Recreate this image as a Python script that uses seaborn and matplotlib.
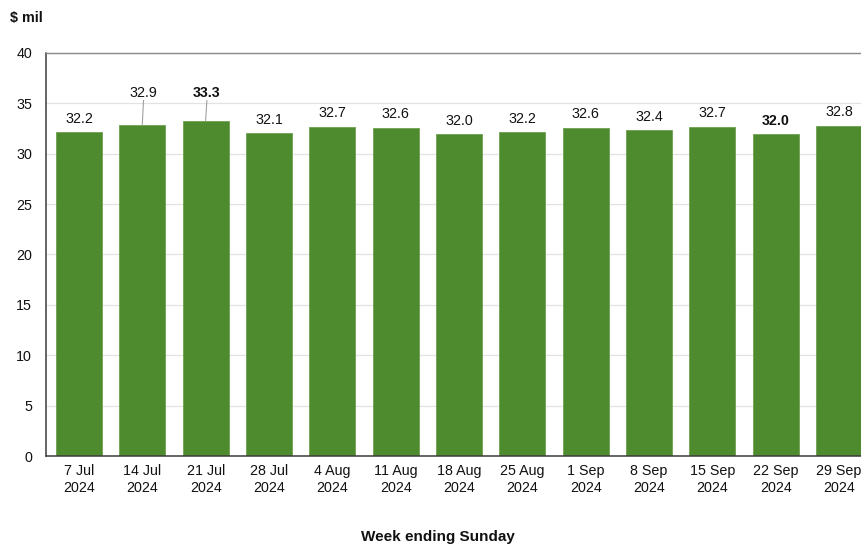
import matplotlib
matplotlib.use("Agg")
import matplotlib.pyplot as plt
import seaborn as sns
import pandas as pd

weeks = ["7 Jul\n2024", "14 Jul\n2024", "21 Jul\n2024", "28 Jul\n2024", "4 Aug\n2024",
         "11 Aug\n2024", "18 Aug\n2024", "25 Aug\n2024", "1 Sep\n2024", "8 Sep\n2024",
         "15 Sep\n2024", "22 Sep\n2024", "29 Sep\n2024"]
values = [32.2, 32.9, 33.3, 32.1, 32.7, 32.6, 32.0, 32.2, 32.6, 32.4, 32.7, 32.0, 32.8]
bold_labels = ["21 Jul\n2024", "22 Sep\n2024"]
raised_labels = ["14 Jul\n2024", "21 Jul\n2024"]
y_ticks = [0, 5, 10, 15, 20, 25, 30, 35, 40]

df = pd.DataFrame({"week": weeks, "value": values})

sns.set_theme(style="white")
plt.rcParams["font.family"] = ["Liberation Sans", "DejaVu Sans"]

fig = plt.figure(figsize=(8.61, 5.45), dpi=100)
ax = fig.add_axes([46 / 861, 89 / 545, 826 / 861, 403 / 545])

bar_color = "#4e8a2e"
sns.barplot(data=df, x="week", y="value", color=bar_color, width=0.73,
            saturation=1, edgecolor="#6ea04f", linewidth=0.6, ax=ax, zorder=2)

ax.set_ylim(0, 40)
ax.set_xlim(-0.52, len(weeks) - 0.48)
ax.set_yticks(y_ticks)
ax.yaxis.grid(True, color="#e2e2e2", linewidth=0.9, zorder=0)
ax.set_axisbelow(True)
ax.tick_params(axis="both", length=0, labelsize=10.3, colors="#111111")
ax.tick_params(axis="y", pad=10)
ax.tick_params(axis="x", pad=6)
ax.set_xlabel("")
ax.set_ylabel("")

for side in ["left", "bottom"]:
    ax.spines[side].set_color("#3c3c3c")
    ax.spines[side].set_linewidth(1.1)
ax.spines["top"].set_color("#8a8a8a")
ax.spines["top"].set_linewidth(1.0)
ax.spines["right"].set_visible(False)

for i, (wk, v) in enumerate(zip(weeks, values)):
    weight = "bold" if wk in bold_labels else "normal"
    if wk in raised_labels:
        ax.plot([i, i + 0.02], [v, 35.3], color="#a0a0a0", linewidth=0.8, zorder=3)
        ax.text(i + 0.02, 36.0, f"{v:.1f}", ha="center", va="center", fontsize=10.3,
                fontweight=weight, color="#111111", zorder=4)
    else:
        ax.annotate(f"{v:.1f}", xy=(i, v), xytext=(0, 9.4), textcoords="offset points",
                    ha="center", va="center", fontsize=10.3, fontweight=weight,
                    color="#111111", zorder=4)

fig.text(10 / 861, 1 - 18 / 545, "$ mil", ha="left", va="center",
         fontsize=10.3, fontweight="bold", color="#111111")
fig.text(438 / 861, 1 - 537 / 545, "Week ending Sunday", ha="center", va="center",
         fontsize=11, fontweight="bold", color="#111111")

fig.savefig("out.png", dpi=100)
